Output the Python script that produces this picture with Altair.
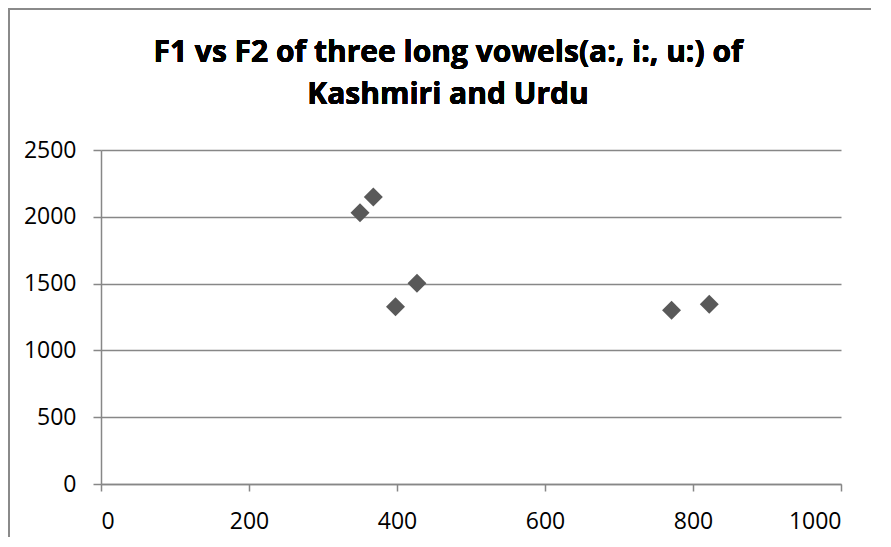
import altair as alt
import pandas as pd

# F1 (x) vs F2 (y) of long vowels of Kashmiri and Urdu
f1 = [350, 368, 398, 427, 771, 822]
f2 = [2031, 2148, 1327, 1502, 1300, 1345]

x_ticks = [0, 200, 400, 600, 800, 1000]
y_ticks = [0, 500, 1000, 1500, 2000, 2500]

title_lines = ["F1 vs F2 of three long vowels(a:, i:, u:) of", "Kashmiri and Urdu"]

df = pd.DataFrame({"F1": f1, "F2": f2})

GRID = "#878787"

points = alt.Chart(df).mark_point(
    shape="diamond", filled=True, size=360, color="#595959", opacity=1
).encode(
    x=alt.X("F1:Q", scale=alt.Scale(domain=[0, 1000], nice=False),
            axis=alt.Axis(values=x_ticks, grid=False, title=None, format="d",
                          tickSize=7, labelPadding=19, domainColor=GRID,
                          tickColor=GRID, domainWidth=1.5, tickWidth=1.5)),
    y=alt.Y("F2:Q", scale=alt.Scale(domain=[0, 2500], nice=False),
            axis=alt.Axis(values=y_ticks, grid=True, title=None, format="d",
                          tickSize=8, labelPadding=17, domainColor=GRID,
                          tickColor=GRID, gridColor=GRID, gridWidth=1.5,
                          domainWidth=1.5, tickWidth=1.5)),
)

border_top = alt.Chart(df).mark_rule(color="#8a8a8a", strokeWidth=2).encode(
    x=alt.value(-93), x2=alt.value(780), y=alt.value(-141)
)
border_left = alt.Chart(df).mark_rule(color="#8a8a8a", strokeWidth=2).encode(
    x=alt.value(-92), y=alt.value(-142), y2=alt.value(400)
)

title_style = dict(font="Open Sans", fontSize=30, fontWeight="bold",
                   color="#000000", align="center", baseline="alphabetic")
title1 = alt.Chart(df).mark_text(**title_style).encode(
    text=alt.value(title_lines[0]), x=alt.value(347), y=alt.value(-88)
)
title2 = alt.Chart(df).mark_text(**title_style).encode(
    text=alt.value(title_lines[1]), x=alt.value(347), y=alt.value(-46)
)

chart = alt.layer(border_top, border_left, title1, title2, points).properties(
    width=740,
    height=334,
    autosize=alt.AutoSizeParams(type="none"),
    padding={"left": 93, "top": 142, "right": 30, "bottom": 53},
).configure_view(stroke=None).configure_axis(
    labelFont="Open Sans", labelFontSize=23, labelColor="#000000"
)

chart.save("out.html", embed_options={"renderer": "svg", "actions": False})
